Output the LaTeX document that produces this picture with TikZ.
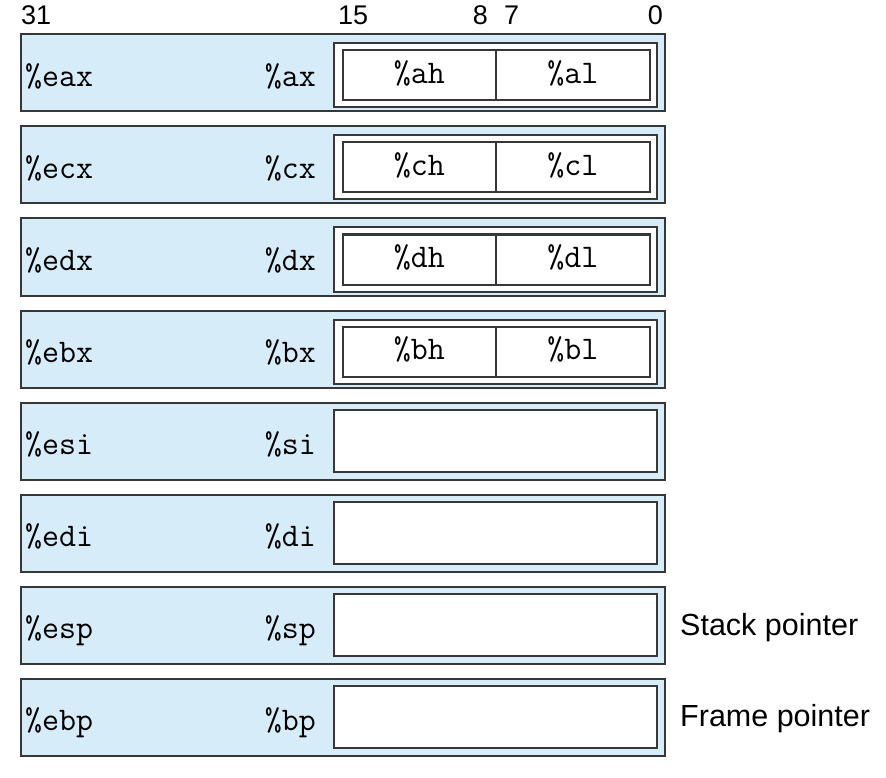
\documentclass[tikz,border=0pt]{standalone}
\usepackage{fontspec}
\setmainfont{Liberation Sans}
\definecolor{regfill}{RGB}{214,237,249}
\definecolor{regline}{RGB}{55,55,55}
\begin{document}
\begin{tikzpicture}[x=1pt,y=-1pt,
  regbox/.style={draw=regline, line width=2pt, fill=regfill, inner sep=0pt, anchor=north west, minimum width=644pt, minimum height=77pt},
  subbox/.style={draw=regline, line width=2pt, fill=white, inner sep=0pt, anchor=north west, minimum width=323pt, minimum height=64pt},
  cellbox/.style={draw=regline, line width=2pt, fill=white, inner sep=0pt, anchor=north west, minimum width=153.5pt, minimum height=50pt},
  reglabel/.style={font=\ttfamily\fontsize{33}{33}\selectfont, inner sep=0pt},
  bitnum/.style={font=\fontsize{27}{27}\selectfont, inner sep=0pt},
  note/.style={font=\fontsize{30.5}{30.5}\selectfont, inner sep=0pt, anchor=base west}]
\useasboundingbox (0,0) rectangle (886,778);
% bit numbers
\node[bitnum, anchor=base west] (b31) at (21,25) {31};
\node[bitnum, anchor=base west] (b15) at (338,25) {15};
\node[bitnum, anchor=base east] (b8) at (488,25) {8};
\node[bitnum, anchor=base west] (b7) at (504,25) {7};
\node[bitnum, anchor=base east] (b0) at (663,25) {0};
% registers with byte halves
\foreach \i/\e/\w/\h/\l in {0/eax/ax/ah/al, 1/ecx/cx/ch/cl, 2/edx/dx/dh/dl, 3/ebx/bx/bh/bl}{
  \pgfmathsetmacro{\T}{33.5+92*\i}
  \node[regbox] (row\i) at (19.5,\T) {};
  \node[subbox] (sub\i) at (333,\T+9) {};
  \node[cellbox] (hi\i) at (341.5,\T+16) {};
  \node[cellbox] (lo\i) at (495,\T+16) {};
  \node[reglabel, anchor=base west] (e\i) at (25,\T+53) {\%\e};
  \node[reglabel, anchor=base east] (w\i) at (316,\T+53) {\%\w};
  \node[reglabel, anchor=base] (h\i) at (hi\i.center |- 0,\T+50) {\%\h};
  \node[reglabel, anchor=base] (l\i) at (lo\i.center |- 0,\T+50) {\%\l};
}
% registers without byte halves
\foreach \i/\e/\w in {4/esi/si, 5/edi/di, 6/esp/sp, 7/ebp/bp}{
  \pgfmathsetmacro{\T}{33.5+92*\i}
  \node[regbox] (row\i) at (19.5,\T) {};
  \node[subbox, minimum height=62pt] (sub\i) at (333,\T+7.5) {};
  \node[reglabel, anchor=base west] (e\i) at (25,\T+53) {\%\e};
  \node[reglabel, anchor=base east] (w\i) at (316,\T+53) {\%\w};
}
\node[note] (sp) at (680,635) {Stack pointer};
\node[note] (fp) at (680,726) {Frame pointer};
\end{tikzpicture}
\end{document}
